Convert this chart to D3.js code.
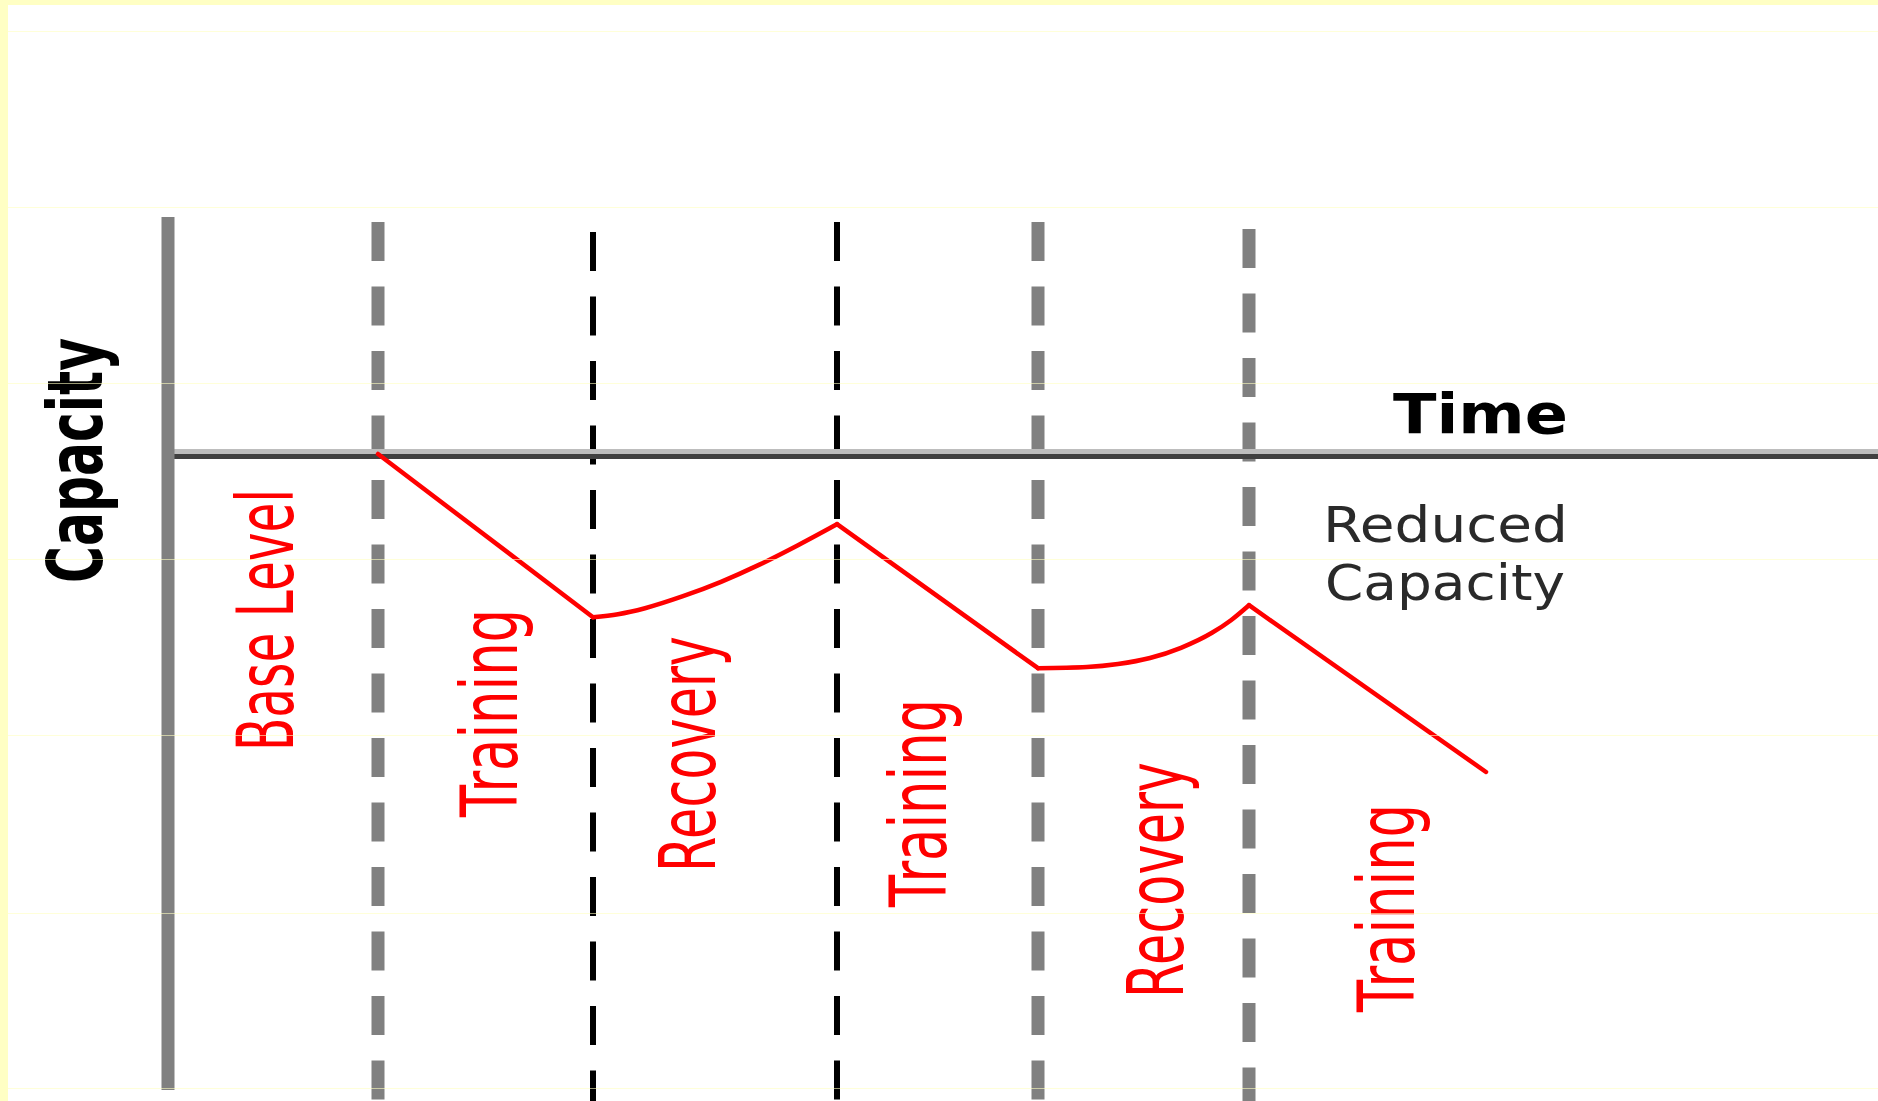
<!DOCTYPE html>
<html><head><meta charset="utf-8">
<script src="https://cdn.jsdelivr.net/npm/d3@7"></script>
<style>html,body{margin:0;padding:0;background:#fff;overflow:hidden}</style>
</head><body>
<svg id="chart" width="1878" height="1101"></svg>
<script>
// ---------------- data (time units / capacity units) ----------------
const phases = ["Base Level", "Training", "Recovery", "Training", "Recovery", "Training"];
const phaseBoundaries = [21.0, 42.5, 66.9, 87.0, 108.1];
const boundaryKind = ["gray", "black", "black", "gray", "gray"];
const training1 = [[21.0, 0], [42.5, -27.2]];
const recovery1 = [[42.5, -27.2], [45.0, -26.7], [47.7, -25.7], [51.5, -23.7], [55.3, -21.3], [59.2, -18.4], [63.0, -15.2], [66.9, -11.7]];
const training2 = [[66.9, -11.7], [87.0, -35.7]];
const recovery2 = [[87.0, -35.7], [91.9, -35.5], [95.0, -35.0], [98.2, -34.0], [101.3, -32.3], [104.4, -29.8], [106.3, -27.7], [108.1, -25.2]];
const training3 = [[108.1, -25.2], [131.8, -53.0]];
const axisTitles = ["Capacity", "Time"];
const noteLines = ["Reduced", "Capacity"];

// ---------------- layout ----------------
const W = 1878, H = 1101;
const svg = d3.select("#chart");
const x = d3.scaleLinear().domain([0, 171]).range([168, 1878]);
const y = d3.scaleLinear().domain([0, -100]).range([454, 1054]);

// background bands
svg.append("rect").attr("x", 0).attr("y", 0).attr("width", W).attr("height", H).attr("fill", "#fff");
svg.append("rect").attr("x", 0).attr("y", 0).attr("width", W).attr("height", 5).attr("fill", "#ffffc4");
svg.append("rect").attr("x", 0).attr("y", 0).attr("width", 8).attr("height", H).attr("fill", "#ffffc4");

// dashed phase boundaries
const dashStart = [222, 232, 222, 222, 229];
svg.append("g").selectAll("line").data(phaseBoundaries).join("line")
  .attr("x1", d => x(d)).attr("x2", d => x(d))
  .attr("y1", (d, i) => dashStart[i]).attr("y2", H)
  .attr("stroke", (d, i) => boundaryKind[i] === "gray" ? "#808080" : "#000")
  .attr("stroke-width", (d, i) => boundaryKind[i] === "gray" ? 13 : 6)
  .attr("stroke-dasharray", "39,25.5");

// x axis (two-tone)
svg.append("line").attr("x1", 174).attr("x2", W).attr("y1", y(0) - 2.5).attr("y2", y(0) - 2.5)
  .attr("stroke", "#bdbdbd").attr("stroke-width", 5);
svg.append("line").attr("x1", 167).attr("x2", W).attr("y1", y(0) + 2.5).attr("y2", y(0) + 2.5)
  .attr("stroke", "#404040").attr("stroke-width", 5);

// y axis
svg.append("line").attr("x1", x(0)).attr("x2", x(0)).attr("y1", y(39.5)).attr("y2", y(-106))
  .attr("stroke", "#808080").attr("stroke-width", 13);

// capacity line
const straight = d3.line().x(d => x(d[0])).y(d => y(d[1]));
const smooth = d3.line().x(d => x(d[0])).y(d => y(d[1])).curve(d3.curveMonotoneX);
const segs = [[training1, straight], [recovery1, smooth], [training2, straight], [recovery2, smooth], [training3, straight]];
svg.append("g").selectAll("path").data(segs).join("path")
  .attr("d", d => d[1](d[0]))
  .attr("fill", "none").attr("stroke", "#ff0000").attr("stroke-width", 4.5)
  .attr("stroke-linejoin", "round").attr("stroke-linecap", "round");

// phase labels (rotated)
const labelX = [293, 517, 715, 946, 1183, 1414];
const labelY = [751, 817, 872, 907, 998, 1012];
const labelLen = [262, 208, 236, 208, 236, 208];
svg.append("g").selectAll("text").data(phases).join("text")
  .attr("transform", (d, i) => `translate(${labelX[i]},${labelY[i]}) rotate(-90)`)
  .attr("font-family", "DejaVu Sans").attr("font-size", 78)
  .attr("fill", "#ff0000")
  .attr("textLength", (d, i) => labelLen[i]).attr("lengthAdjust", "spacingAndGlyphs")
  .text(d => d);

// axis titles
svg.append("text")
  .attr("transform", "translate(102,583) rotate(-90)")
  .attr("font-family", "DejaVu Sans").attr("font-weight", "bold").attr("font-size", 77)
  .attr("fill", "#000").attr("textLength", 245).attr("lengthAdjust", "spacingAndGlyphs")
  .text(axisTitles[0]);
svg.append("text")
  .attr("x", 1393).attr("y", 433)
  .attr("font-family", "DejaVu Sans").attr("font-weight", "bold").attr("font-size", 55)
  .attr("fill", "#000").attr("textLength", 175).attr("lengthAdjust", "spacingAndGlyphs")
  .text(axisTitles[1]);

// note
const noteX = [1323, 1325], noteY = [542, 600], noteLen = [245, 240];
svg.append("g").selectAll("text").data(noteLines).join("text")
  .attr("x", (d, i) => noteX[i]).attr("y", (d, i) => noteY[i])
  .attr("font-family", "DejaVu Sans").attr("font-size", 50)
  .attr("fill", "#2a2a2a")
  .attr("textLength", (d, i) => noteLen[i]).attr("lengthAdjust", "spacingAndGlyphs")
  .text(d => d);

// faint yellow scan lines
const faint = [31, 207, 383, 559, 735, 913, 1088];
svg.append("g").selectAll("line").data(faint).join("line")
  .attr("x1", 8).attr("x2", W).attr("y1", d => d + 0.5).attr("y2", d => d + 0.5)
  .attr("stroke", "#ffffc0").attr("stroke-opacity", 0.6).attr("stroke-width", 1);
</script>
</body></html>
